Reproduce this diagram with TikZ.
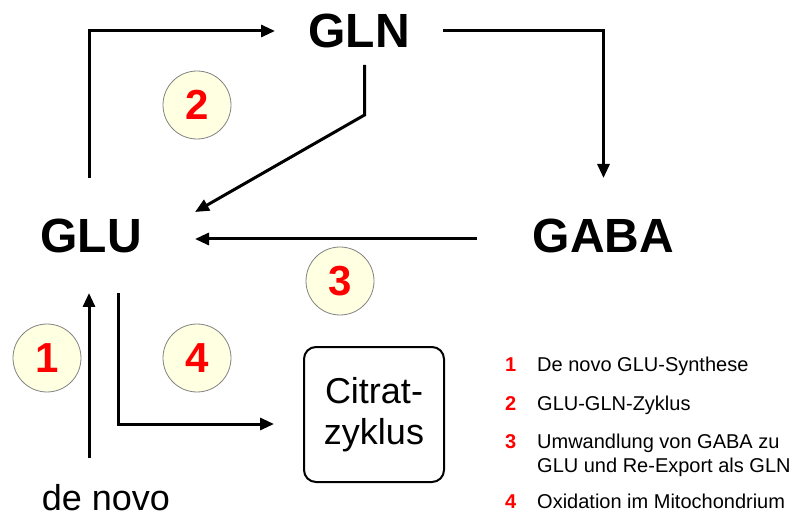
\documentclass[tikz,border=0pt]{standalone}
\usepackage{fontspec}
\setmainfont{Liberation Sans}
\usetikzlibrary{arrows.meta}
\definecolor{badgefill}{RGB}{255,255,226}
\definecolor{badgeline}{RGB}{130,130,130}
\tikzset{
  arr/.style={line width=3pt, line join=miter, -{Triangle[length=14pt,width=12pt]}},
  metab/.style={font=\fontsize{48}{48}\selectfont\bfseries, inner sep=0pt, outer sep=0pt},
  badge/.style={circle, draw=badgeline, line width=0.8pt, fill=badgefill,
    minimum size=68pt, inner sep=0pt, text=red,
    font=\fontsize{42}{42}\selectfont\bfseries},
  plain/.style={font=\fontsize{36}{41}\selectfont, inner sep=0pt, outer sep=0pt},
  cyclebox/.style={draw, line width=2pt, rounded corners=12pt, minimum width=140pt,
    minimum height=135pt, align=center, inner sep=0pt, outer sep=0pt,
    font=\fontsize{36}{41}\selectfont},
  legnum/.style={font=\fontsize{20}{24}\selectfont\bfseries, text=red, inner sep=0pt, anchor=base west},
  legtxt/.style={font=\fontsize{20}{24}\selectfont, inner sep=0pt, anchor=base west},
}
\begin{document}
\begin{tikzpicture}[x=1pt,y=1pt]
\useasboundingbox (0,0) rectangle (796,515);

% metabolites
\node[metab, minimum width=168pt, minimum height=68pt] (GLN) at (359,484) {GLN};
\node[metab, minimum width=208pt, minimum height=115pt] (GLU) at (91,279.5) {GLU};
\node[metab, minimum width=253pt, minimum height=115pt] (GABA) at (603.5,279.5) {GABA};
\node[plain, anchor=base] (denovo) at (106,5) {de novo};
\node[cyclebox] (citrat) at (374,100.5) {Citrat-\\zyklus};

% pathways
\draw[arr] ([xshift=-2pt]GLU.north) |- (GLN.west);
\draw[arr] (GLN.east) -| (GABA.north);
\draw[arr] ([xshift=5.5pt]GLN.south) -- ++(0,-50) -- ([yshift=23.5pt]GLU.east);
\draw[arr] ([yshift=-3.5pt]GABA.west) -- ([yshift=-3.5pt]GLU.east);
\draw[arr] ([xshift=-17pt,yshift=25.5pt]denovo.north) -- ([xshift=-2pt]GLU.south);
\draw[arr, shorten >=30pt] ([xshift=27pt]GLU.south) |- ([yshift=-9.5pt]citrat.west);

% numbered badges
\node[badge] (b1) at (47,157) {1};
\node[badge] (b2) at (197,410) {2};
\node[badge] (b3) at (340,234) {3};
\node[badge] (b4) at (197,157) {4};

% legend
\node[legnum] (n1) at (505,143) {1};
\node[legtxt] (t1) at (537,143) {De novo GLU-Synthese};
\node[legnum] (n2) at (505,105) {2};
\node[legtxt] (t2) at (537,105) {GLU-GLN-Zyklus};
\node[legnum] (n3) at (505,67) {3};
\node[legtxt] (t3) at (537,67) {Umwandlung von GABA zu};
\node[legtxt] (t3b) at (537,43) {GLU und Re-Export als GLN};
\node[legnum] (n4) at (505,7) {4};
\node[legtxt] (t4) at (537,7) {Oxidation im Mitochondrium};
\end{tikzpicture}
\end{document}
